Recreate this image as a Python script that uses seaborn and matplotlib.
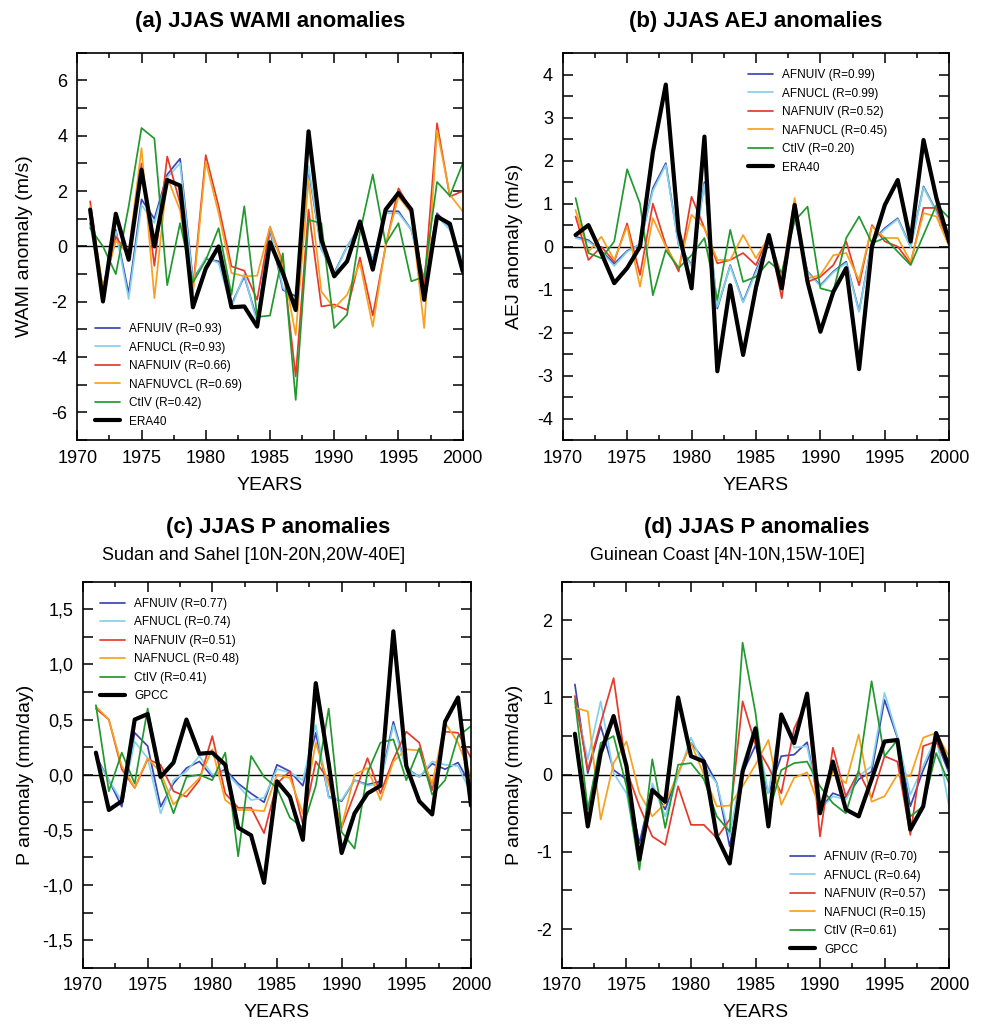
import matplotlib
matplotlib.use("Agg")
import matplotlib.pyplot as plt
import seaborn as sns
from matplotlib.ticker import MultipleLocator, FuncFormatter

years = list(range(1971, 2001))

# (a) JJAS WAMI anomalies (m/s)
wami_afnuiv = [0.84, -1.5, 0.6, -1.7, 1.7, 1.0, 2.6, 3.17, -1.2, -0.45, -0.54, -2.1, -1.08, -2.65, 0.6,
               -1.57, -1.8, 2.77, -0.1, -0.96, 0.0, 0.72, -0.5, 1.27, 1.27, 0.6, -1.2, 1.2, 0.7, -0.6]
wami_afnucl = [0.75, -1.6, 0.55, -1.9, 1.5, 0.85, 2.5, 3.0, -1.3, -0.4, -0.6, -2.2, -1.0, -2.8, 0.7,
               -1.5, -2.0, 2.9, -0.1, -1.0, 0.0, 0.7, -0.5, 1.2, 1.2, 0.6, -1.3, 1.1, 0.6, -0.5]
wami_nafnuiv = [1.63, -1.7, 0.36, -0.36, 3.0, -0.7, 3.25, 1.56, -1.56, 3.3, 1.45, -0.72, -0.88, -1.93, 0.7,
                -0.6, -4.7, 1.33, -2.17, -2.1, -2.3, -0.4, -2.5, 0.0, 2.1, 1.3, -1.45, 4.45, 1.8, 2.0]
wami_nafnuvcl = [1.45, -1.5, 0.2, -0.2, 3.55, -1.87, 2.5, 1.3, -1.7, 3.07, 1.2, -0.96, -1.08, -1.06, 0.72,
                 -0.72, -3.2, 2.4, -1.63, -2.23, -1.75, -0.6, -2.9, 0.06, 1.8, 1.2, -2.95, 4.2, 1.87, 1.27]
wami_ctiv = [0.66, 0.0, -1.0, 1.45, 4.28, 3.9, -1.4, 0.84, -1.3, -0.5, 0.66, -1.75, 1.45, -2.55, -2.5,
             -0.25, -5.55, 0.96, 0.84, -2.95, -2.47, 0.5, 2.6, 0.1, 0.84, -1.26, -1.1, 2.33, 1.83, 3.0]
wami_era40 = [1.33, -1.99, 1.18, -0.48, 2.77, 0.0, 2.4, 2.2, -2.2, -0.8, 0.0, -2.2, -2.17, -2.9, 0.15,
              -0.96, -2.3, 4.16, 0.24, -1.08, -0.54, 0.9, -0.84, 1.33, 1.93, 1.33, -1.93, 1.08, 0.82, -0.9]

# (b) JJAS AEJ anomalies (m/s)
aej_afnuiv = [0.23, 0.15, -0.1, -0.4, -0.1, 0.05, 1.36, 1.94, 0.04, -0.43, 1.5, -1.44, -0.43, -1.28, -0.55,
              0.12, -0.66, 0.7, -0.58, -0.9, -0.58, -0.35, -1.5, 0.12, 0.43, 0.66, 0.0, 1.4, 0.82, 0.04]
aej_afnucl = [0.2, 0.12, -0.12, -0.45, -0.12, 0.05, 1.3, 1.9, 0.02, -0.45, 1.45, -1.4, -0.45, -1.3, -0.6,
              0.1, -0.7, 0.65, -0.6, -0.92, -0.6, -0.38, -1.52, 0.1, 0.4, 0.64, -0.02, 1.38, 0.8, 0.02]
aej_nafnuiv = [0.7, -0.31, 0.0, -0.35, 0.54, -0.66, 1.0, 0.04, -0.58, 1.16, 0.43, -0.39, -0.31, -0.15, -0.43,
               0.27, -1.2, 1.05, -0.82, -0.7, -0.43, 0.12, -0.9, 0.5, 0.12, 0.0, -0.4, 0.9, 0.9, 0.0]
aej_nafnucl = [0.85, -0.12, 0.23, -0.31, 0.47, -0.93, 0.66, 0.0, -0.5, 0.74, 0.43, -0.31, -0.31, 0.27, -0.27,
               0.23, -0.7, 1.13, -0.74, -0.66, -0.2, -0.15, -0.78, 0.47, 0.2, 0.2, -0.35, 0.78, 0.7, 0.0]
aej_ctiv = [1.13, -0.15, -0.27, 0.12, 1.8, 1.0, -1.13, -0.08, -0.5, -0.2, 0.2, -1.24, 0.39, -0.82, -0.7,
            -0.35, -0.6, 0.6, 0.93, -0.97, -1.05, 0.2, 0.7, 0.08, 0.2, -0.12, -0.43, 0.27, 0.97, 0.66]
aej_era40 = [0.27, 0.5, -0.15, -0.85, -0.5, 0.0, 2.2, 3.77, 0.35, -0.97, 2.56, -2.9, -0.9, -2.52, -0.95,
             0.27, -0.97, 0.97, -0.82, -1.98, -1.05, -0.5, -2.85, 0.0, 0.97, 1.55, 0.12, 2.48, 1.13, 0.1]

# (c) JJAS P anomalies, Sudan and Sahel (mm/day)
sah_afnuiv = [0.17, -0.05, -0.29, 0.38, 0.26, -0.29, -0.08, 0.06, 0.12, -0.02, 0.05, -0.08, -0.17, -0.25, 0.09,
              0.03, -0.1, 0.38, -0.2, -0.24, -0.05, -0.09, -0.06, 0.48, 0.06, -0.02, 0.1, 0.05, 0.11, -0.1]
sah_afnucl = [0.15, -0.05, -0.24, 0.3, 0.15, -0.35, -0.05, 0.03, 0.17, 0.0, 0.03, -0.1, -0.23, -0.21, 0.05,
              0.02, -0.05, 0.45, -0.21, -0.23, -0.05, -0.1, -0.08, 0.45, 0.05, -0.02, 0.12, 0.09, 0.08, -0.17]
sah_nafnuiv = [0.6, 0.5, 0.05, -0.12, 0.14, 0.09, -0.15, -0.2, -0.05, 0.35, -0.17, -0.3, -0.3, -0.53, -0.08,
               0.03, -0.45, 0.12, -0.05, -0.48, -0.17, 0.15, -0.17, 0.14, 0.39, 0.29, -0.14, 0.39, 0.38, 0.15]
sah_nafnucl = [0.62, 0.5, 0.08, -0.12, 0.15, 0.02, -0.27, -0.15, -0.03, 0.23, -0.23, -0.32, -0.32, -0.33, 0.0,
               -0.03, -0.35, 0.29, -0.09, -0.47, 0.0, 0.06, -0.23, 0.12, 0.23, 0.22, -0.08, 0.47, 0.29, -0.02]
sah_ctiv = [0.63, -0.15, 0.2, -0.08, 0.6, -0.02, -0.35, -0.02, 0.0, -0.05, 0.2, -0.74, 0.17, -0.02, -0.12,
            -0.39, -0.48, -0.1, 0.6, -0.52, -0.67, 0.02, 0.29, 0.32, -0.05, 0.24, -0.18, -0.05, 0.35, 0.44]
sah_gpcc = [0.2, -0.32, -0.24, 0.5, 0.55, -0.02, 0.11, 0.5, 0.19, 0.2, 0.09, -0.48, -0.55, -0.98, -0.06,
            -0.2, -0.59, 0.83, 0.1, -0.71, -0.35, -0.17, -0.1, 1.3, 0.08, -0.24, -0.36, 0.48, 0.7, -0.28]

# (d) JJAS P anomalies, Guinean Coast (mm/day)
gui_afnuiv = [1.17, 0.02, 0.63, 0.06, -0.06, -0.89, -0.15, -0.45, 0.02, 0.41, 0.2, -0.11, -0.93, 0.02, 0.38,
              -0.24, 0.24, 0.26, 0.42, -0.45, -0.24, -0.3, -0.06, 0.04, 0.97, 0.48, -0.41, 0.06, 0.45, 0.02]
gui_afnucl = [0.95, 0.2, 0.95, 0.02, -0.24, -1.15, -0.11, -0.54, -0.02, 0.48, 0.11, -0.11, -0.8, 0.13, 0.63,
              -0.24, 0.76, 0.35, 0.37, -0.45, -0.28, -0.32, -0.02, 0.11, 1.06, 0.5, -0.26, 0.11, 0.5, -0.41]
gui_nafnuiv = [1.02, 0.06, 0.67, 1.25, 0.06, -0.41, -0.8, -0.91, -0.15, -0.65, -0.65, -0.82, -0.58, 0.95, 0.39,
               0.1, -0.24, 0.6, 0.95, -0.8, 0.35, -0.28, 0.04, -0.3, 0.24, 0.17, -0.78, 0.37, 0.43, 0.1]
gui_nafnucl = [0.87, 0.82, -0.58, 0.15, 0.43, -0.24, -0.54, -0.37, 0.02, 0.41, 0.0, -0.41, -0.4, -0.15, 0.13,
               0.45, -0.39, -0.04, 0.03, -0.45, 0.04, -0.11, 0.52, -0.35, -0.28, 0.0, -0.02, 0.48, 0.54, 0.24]
gui_ctiv = [0.97, -0.45, 0.41, 0.5, -0.15, -1.23, 0.2, -0.69, 0.13, 0.15, -0.06, -0.54, -0.74, 1.71, 0.8,
            -0.5, 0.06, 0.15, 0.17, -0.15, -0.37, -0.5, 0.06, 1.21, 0.24, 0.45, -0.54, -0.41, 0.28, -0.11]
gui_gpcc = [0.53, -0.67, 0.28, 0.76, 0.11, -1.1, -0.2, -0.35, 1.0, 0.24, 0.17, -0.8, -1.15, 0.04, 0.6,
            -0.67, 0.78, 0.41, 1.05, -0.5, 0.17, -0.45, -0.54, -0.06, 0.43, 0.45, -0.71, -0.41, 0.54, 0.1]

colors = ["#3c46b2", "#84d2ea", "#e53a2c", "#f7a11f", "#22992f", "black"]

sns.set_style("ticks")
plt.rcParams["font.family"] = ["Liberation Sans", "DejaVu Sans"]
plt.rcParams["axes.unicode_minus"] = False
for key in ["text.color", "axes.labelcolor", "xtick.color", "ytick.color", "axes.edgecolor"]:
    plt.rcParams[key] = "black"

fig = plt.figure(figsize=(9.82, 10.25), dpi=100)


def draw_panel(rect, series, labels, ylim, ymaj, ymin, ylabel, legend_xy, comma=False):
    ax = fig.add_axes(rect)
    ax.axhline(0, color="black", lw=1.0, zorder=1)
    for vals, lab, col in zip(series, labels, colors):
        lw = 3.0 if col == "black" else 1.25
        sns.lineplot(x=years, y=vals, ax=ax, color=col, lw=lw, label=lab)
    ax.set_xlim(1970, 2000)
    ax.set_ylim(*ylim)
    ax.xaxis.set_major_locator(MultipleLocator(5))
    ax.xaxis.set_minor_locator(MultipleLocator(2.5))
    ax.yaxis.set_major_locator(MultipleLocator(ymaj))
    ax.yaxis.set_minor_locator(MultipleLocator(ymin))
    if comma:
        ax.yaxis.set_major_formatter(FuncFormatter(lambda v, p: f"{v:.1f}".replace(".", ",")))
    ax.tick_params(axis="both", which="both", direction="in", top=True, right=True,
                   labelsize=13, width=1.1, pad=7, colors="black")
    ax.tick_params(axis="x", which="major", length=7)
    ax.tick_params(axis="x", which="minor", length=3.5)
    ax.tick_params(axis="y", which="both", length=7)
    for s in ax.spines.values():
        s.set_linewidth(1.2)
        s.set_color("black")
    ax.set_xlabel("YEARS", fontsize=14)
    ax.set_ylabel(ylabel, fontsize=14)
    ax.xaxis.set_label_coords(0.5, -0.095)
    ax.legend(loc="upper left", bbox_to_anchor=legend_xy, frameon=False, fontsize=8.5,
              handlelength=2.1, handletextpad=0.8, labelspacing=0.55, borderpad=0, borderaxespad=0,
              labelcolor="black")
    return ax


ax_a = draw_panel([0.0787, 0.5707, 0.3925, 0.3778],
                  [wami_afnuiv, wami_afnucl, wami_nafnuiv, wami_nafnuvcl, wami_ctiv, wami_era40],
                  ["AFNUIV (R=0.93)", "AFNUCL (R=0.93)", "NAFNUIV (R=0.66)",
                   "NAFNUVCL (R=0.69)", "CtIV (R=0.42)", "ERA40"],
                  (-7, 7), 2, 1, "WAMI anomaly (m/s)", (0.046, 0.302))
ax_a.yaxis.set_label_coords(-0.115, 0.5)

ax_b = draw_panel([0.5730, 0.5707, 0.3937, 0.3774],
                  [aej_afnuiv, aej_afnucl, aej_nafnuiv, aej_nafnucl, aej_ctiv, aej_era40],
                  ["AFNUIV (R=0.99)", "AFNUCL (R=0.99)", "NAFNUIV (R=0.52)",
                   "NAFNUCL (R=0.45)", "CtIV (R=0.20)", "ERA40"],
                  (-4.5, 4.5), 1, 0.5, "AEJ anomaly (m/s)", (0.479, 0.959))
ax_b.yaxis.set_label_coords(-0.103, 0.5)

ax_c = draw_panel([0.0845, 0.0559, 0.3951, 0.3766],
                  [sah_afnuiv, sah_afnucl, sah_nafnuiv, sah_nafnucl, sah_ctiv, sah_gpcc],
                  ["AFNUIV (R=0.77)", "AFNUCL (R=0.74)", "NAFNUIV (R=0.51)",
                   "NAFNUCL (R=0.48)", "CtIV (R=0.41)", "GPCC"],
                  (-1.75, 1.75), 0.5, 0.25, "P anomaly (mm/day)", (0.044, 0.958), comma=True)
ax_c.yaxis.set_label_coords(-0.126, 0.5)

ax_d = draw_panel([0.5723, 0.0559, 0.3941, 0.3766],
                  [gui_afnuiv, gui_afnucl, gui_nafnuiv, gui_nafnucl, gui_ctiv, gui_gpcc],
                  ["AFNUIV (R=0.70)", "AFNUCL (R=0.64)", "NAFNUIV (R=0.57)",
                   "NAFNUCl (R=0.15)", "CtIV (R=0.61)", "GPCC"],
                  (-2.5, 2.5), 1, 0.5, "P anomaly (mm/day)", (0.589, 0.302))
ax_d.yaxis.set_label_coords(-0.10, 0.5)

# titles
fig.text(270 / 982, 1 - 22 / 1025, "(a) JJAS WAMI anomalies", ha="center", va="center",
         fontsize=16, fontweight="bold")
fig.text(756 / 982, 1 - 22 / 1025, "(b) JJAS AEJ anomalies", ha="center", va="center",
         fontsize=16, fontweight="bold")
fig.text(278 / 982, 1 - 527 / 1025, "(c) JJAS P anomalies", ha="center", va="center",
         fontsize=16, fontweight="bold")
fig.text(757 / 982, 1 - 527 / 1025, "(d) JJAS P anomalies", ha="center", va="center",
         fontsize=16, fontweight="bold")
fig.text(102 / 982, 1 - 555 / 1025, "Sudan and Sahel [10N-20N,20W-40E]", ha="left", va="center",
         fontsize=12.9)
fig.text(590 / 982, 1 - 555 / 1025, "Guinean Coast [4N-10N,15W-10E]", ha="left", va="center",
         fontsize=12.9)

fig.savefig("out.png", dpi=100)
